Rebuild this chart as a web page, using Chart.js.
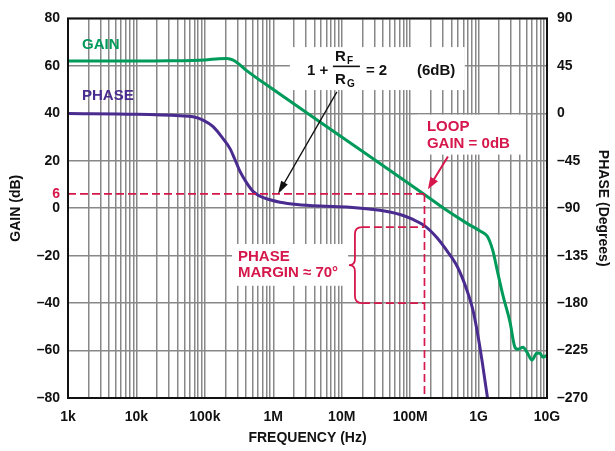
<!DOCTYPE html>
<html>
<head>
<meta charset="utf-8">
<script src="https://cdn.jsdelivr.net/npm/chart.js@4.4.1/dist/chart.umd.min.js"></script>
<style>
    html, body { margin: 0; padding: 0; background: #fff; }
</style>
</head>
<body>
<canvas id="bode" width="615" height="451"></canvas>
<script>
// open loop gain (dB) vs frequency (Hz)
const gainFreq = [1e3, 1e4, 3e4, 1e5, 1.6e5, 2.1e5, 2.6e5, 3.2e5, 4e5, 1e6, 1e7, 1e8, 1.58e8, 3.46e8,
    6.78e8, 1.05e9, 1.33e9, 1.45e9, 1.62e9, 1.92e9, 2.28e9, 2.88e9, 3.4e9, 3.77e9, 4.46e9, 5.1e9,
    6.04e9, 7.14e9, 7.9e9, 8.75e9, 1e10];
const gainDb = [62, 62, 62.1, 62.5, 63, 63.1, 62.4, 60.6, 58.2, 50, 30, 10, 6, -1.0,
    -6.4, -9.6, -11.7, -13.8, -18, -27.6, -37, -48, -58.6, -59.5, -58.6, -60.7,
    -64, -61, -61.2, -62.8, -62];

// phase (degrees) vs frequency (Hz)
const phaseFreq = [1e3, 1e4, 4.34e4, 6.7e4, 9.4e4, 1.32e5, 1.84e5, 2.33e5, 2.75e5, 3.26e5, 4.13e5,
    5.06e5, 6.4e5, 8.96e5, 1.25e6, 2.22e6, 4.8e6, 1.3e7, 3.6e7, 7.1e7, 1.1e8, 1.65e8, 2.47e8,
    3.46e8, 4.94e8, 6.78e8, 8.3e8, 9.5e8, 1.12e9, 1.33e9, 1.35e9];
const phaseDeg = [-0.3, -1, -2.4, -3.3, -6.4, -12.7, -24, -33.5, -43.8, -55.1, -66.4,
    -74, -78.7, -82, -84.3, -86.5, -88, -89, -92, -96, -100.7, -107, -118,
    -130.5, -146, -168, -187, -206, -234, -267, -270];

const decades = [1e3, 1e4, 1e5, 1e6, 1e7, 1e8, 1e9, 1e10];
const freqLabels = ['1k', '10k', '100k', '1M', '10M', '100M', '1G', '10G'];

const GREEN = '#009B5A';
const PURPLE = '#4A2B90';
const RED = '#D5174B';
const GRID = '#888888';
const FONT = '"Liberation Sans", Arial, Helvetica, sans-serif';

const loopFreq = 1.62e8;  // loop gain = 0dB crossing
const closedGain = 6;

function minus(v) {
    return v < 0 ? '\u2013' + Math.abs(v) : String(v);
}

function arrow(ctx, x0, y0, x1, y1, color, width, headLen, headW) {
    const a = Math.atan2(y1 - y0, x1 - x0);
    const c = Math.cos(a), s = Math.sin(a);
    ctx.strokeStyle = color;
    ctx.fillStyle = color;
    ctx.lineWidth = width;
    ctx.setLineDash([]);
    ctx.beginPath();
    ctx.moveTo(x0, y0);
    ctx.lineTo(x1 - c * headLen * 0.7, y1 - s * headLen * 0.7);
    ctx.stroke();
    ctx.beginPath();
    ctx.moveTo(x1, y1);
    ctx.lineTo(x1 - c * headLen + s * headW, y1 - s * headLen - c * headW);
    ctx.lineTo(x1 - c * headLen - s * headW, y1 - s * headLen + c * headW);
    ctx.closePath();
    ctx.fill();
}

const bodeAnnotations = {
    id: 'bodeAnnotations',
    beforeDatasetsDraw(chart) {
        const {ctx, scales} = chart;
        const px = v => scales.x.getPixelForValue(v);
        const py = v => scales.y.getPixelForValue(v);
        // white boxes behind the notes (hide grid)
        const boxes = [
            [1.75e6, 6.3e8, 67.9, 49.8],
            [1.26e8, 4.47e9, 39.4, 22.6],
            [2.5e5, 1.24e7, -15.1, -32.7]
        ];
        ctx.save();
        ctx.fillStyle = '#fff';
        boxes.forEach(([f0, f1, g0, g1]) => {
            ctx.fillRect(px(f0), py(g0), px(f1) - px(f0), py(g1) - py(g0));
        });
        ctx.restore();
    },
    afterDatasetsDraw(chart) {
        const {ctx, chartArea: area, scales} = chart;
        const px = v => scales.x.getPixelForValue(v);
        const py = v => scales.y.getPixelForValue(v);
        const pp = v => scales.y1.getPixelForValue(v);
        ctx.save();

        // dashed 6dB and loop-gain lines
        const xl = px(loopFreq);
        const y6 = py(closedGain);
        ctx.strokeStyle = RED;
        ctx.lineWidth = 1.7;
        ctx.setLineDash([8, 4]);
        ctx.beginPath();
        ctx.moveTo(area.left, y6);
        ctx.lineTo(xl, y6);
        ctx.moveTo(xl, y6);
        ctx.lineTo(xl, area.bottom);
        // phase margin bracket
        const xb = px(1.56e7);
        const yTop = pp(-108), yBot = pp(-180);
        ctx.moveTo(xb + 7, yTop);
        ctx.lineTo(xl, yTop);
        ctx.moveTo(xb + 7, yBot);
        ctx.lineTo(xl, yBot);
        ctx.stroke();

        // curly brace
        ctx.setLineDash([]);
        ctx.lineWidth = 1.8;
        const ym = (yTop + yBot) / 2;
        ctx.beginPath();
        ctx.moveTo(xb + 7, yTop);
        ctx.quadraticCurveTo(xb, yTop, xb, yTop + 7);
        ctx.lineTo(xb, ym - 6);
        ctx.quadraticCurveTo(xb, ym, xb - 6, ym);
        ctx.quadraticCurveTo(xb, ym, xb, ym + 6);
        ctx.lineTo(xb, yBot - 7);
        ctx.quadraticCurveTo(xb, yBot, xb + 7, yBot);
        ctx.stroke();

        // arrows
        arrow(ctx, px(8.5e6), py(49), px(1.17e6), py(6), '#111', 1.3, 13, 3.8);
        arrow(ctx, px(3.57e8), py(21.8), px(1.82e8), py(8), RED, 2, 12, 4.5);

        // text
        ctx.textBaseline = 'middle';
        ctx.textAlign = 'left';
        ctx.font = 'bold 15px ' + FONT;
        ctx.fillStyle = GREEN;
        ctx.fillText('GAIN', px(1.6e3), py(68.7));
        ctx.fillStyle = PURPLE;
        ctx.fillText('PHASE', px(1.6e3), py(47.3));

        ctx.fillStyle = RED;
        ctx.fillText('LOOP', px(1.76e8), py(34.3));
        ctx.fillText('GAIN = 0dB', px(1.76e8), py(27.2));
        ctx.fillText('PHASE', px(3.05e5), py(-20.5));
        ctx.fillText('MARGIN \u2248 70\u00B0', px(3.05e5), py(-27.2));

        // 6 dB label on the gain axis
        ctx.textAlign = 'right';
        ctx.font = 'bold 14px ' + FONT;
        ctx.fillText('6', area.left - 8, y6);

        // 1 + RF/RG = 2 (6dB)
        const x0 = px(3.1e6), yc = py(57.8);
        ctx.fillStyle = '#111';
        ctx.textAlign = 'left';
        ctx.font = 'bold 15px ' + FONT;
        ctx.fillText('1 +', x0, yc);
        ctx.fillRect(x0 + 26, yc - 5.5, 27, 1.6);
        ctx.fillText('R', x0 + 28, yc - 14);
        ctx.fillText('R', x0 + 28, yc + 9);
        ctx.fillText('= 2', x0 + 59, yc);
        ctx.fillText('(6dB)', x0 + 110, yc);
        ctx.font = 'bold 10px ' + FONT;
        ctx.fillText('F', x0 + 40, yc - 10);
        ctx.fillText('G', x0 + 40, yc + 13);

        // plot frame
        ctx.strokeStyle = '#111';
        ctx.lineWidth = 2;
        ctx.strokeRect(area.left, area.top, area.right - area.left, area.bottom - area.top);
        ctx.restore();
    }
};

const gridTicks = [];
decades.slice(0, -1).forEach(d => {
    for (let m = 1; m < 10; m++) gridTicks.push({value: d * m});
});
gridTicks.push({value: decades[decades.length - 1]});

function decadeLabel(value) {
    const idx = decades.findIndex(d => Math.abs(Math.log10(d) - Math.log10(value)) < 1e-6);
    return idx >= 0 ? freqLabels[idx] : '';
}

new Chart('bode', {
    type: 'line',
    data: {
        datasets: [
            {
                label: 'GAIN',
                data: gainFreq.map((f, i) => ({x: f, y: gainDb[i]})),
                borderColor: GREEN,
                borderWidth: 3,
                pointRadius: 0,
                cubicInterpolationMode: 'monotone',
                yAxisID: 'y'
            },
            {
                label: 'PHASE',
                data: phaseFreq.map((f, i) => ({x: f, y: phaseDeg[i]})),
                borderColor: PURPLE,
                borderWidth: 3,
                pointRadius: 0,
                cubicInterpolationMode: 'monotone',
                yAxisID: 'y1'
            }
        ]
    },
    options: {
        responsive: false,
        animation: false,
        devicePixelRatio: 1,
        layout: {padding: {top: 16, left: 0, right: 0, bottom: 0}},
        plugins: {
            legend: {display: false},
            tooltip: {enabled: false}
        },
        scales: {
            x: {
                type: 'logarithmic',
                min: 1e3,
                max: 1e10,
                afterBuildTicks: axis => { axis.ticks = gridTicks.map(t => ({value: t.value})); },
                afterFit: axis => { axis.height = 53; },
                grid: {color: GRID, lineWidth: 1.5, drawTicks: false},
                border: {display: false},
                ticks: {
                    autoSkip: false,
                    maxRotation: 0,
                    padding: 11,
                    color: '#111',
                    font: {family: FONT, size: 14, weight: 'bold'},
                    callback: value => decadeLabel(value)
                },
                title: {
                    display: true,
                    text: 'FREQUENCY (Hz)',
                    color: '#111',
                    padding: {top: 4, bottom: 4},
                    font: {family: FONT, size: 14, weight: 'bold'}
                }
            },
            y: {
                position: 'left',
                min: -80,
                max: 80,
                afterFit: axis => { axis.width = 68; },
                grid: {color: GRID, lineWidth: 1.5, drawTicks: false},
                border: {display: false},
                ticks: {
                    stepSize: 20,
                    autoSkip: false,
                    padding: 8,
                    color: '#111',
                    font: {family: FONT, size: 14, weight: 'bold'},
                    callback: value => minus(value)
                },
                title: {
                    display: true,
                    text: 'GAIN (dB)',
                    color: '#111',
                    padding: {top: 8, bottom: 4},
                    font: {family: FONT, size: 14, weight: 'bold'}
                }
            },
            y1: {
                position: 'right',
                min: -270,
                max: 90,
                afterFit: axis => { axis.width = 68; },
                grid: {display: false, drawTicks: false},
                border: {display: false},
                ticks: {
                    stepSize: 45,
                    autoSkip: false,
                    padding: 10,
                    color: '#111',
                    font: {family: FONT, size: 14, weight: 'bold'},
                    callback: value => minus(value)
                },
                title: {
                    display: true,
                    text: 'PHASE (Degrees)',
                    color: '#111',
                    padding: {top: 4, bottom: 4},
                    font: {family: FONT, size: 14, weight: 'bold'}
                }
            }
        }
    },
    plugins: [bodeAnnotations]
});
</script>
</body>
</html>
